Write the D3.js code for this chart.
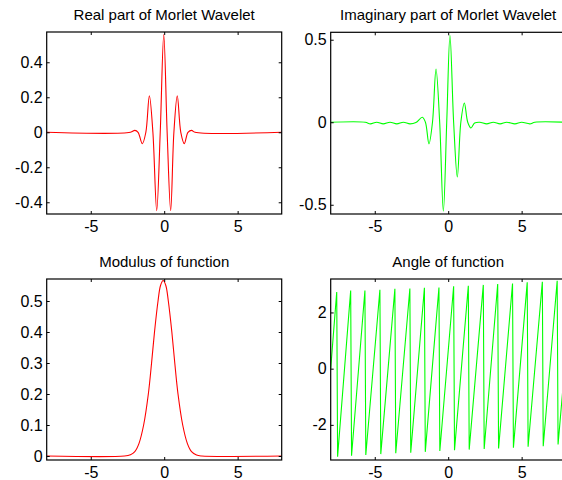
<!DOCTYPE html>
<html>
<head>
<meta charset="utf-8">
<script src="https://cdn.jsdelivr.net/npm/d3@7"></script>
<style>
  body { margin: 0; background: #fff; }
  svg { display: block; }
</style>
</head>
<body>
<div id="chart"></div>
<script>
// values
var xTicks = [-5, 0, 5];
var xTickLabels = ["-5", "0", "5"];

// real part: [x, y] points at the flats, zero crossings, peaks and troughs
var realPts = [[-8, 0], [-2.3, 0], [-2.0, 0.011], [-1.78, 0], [-1.49, -0.065], [-1.25, 0],
  [-1.01, 0.209], [-0.77, 0], [-0.51, -0.448], [-0.27, 0], [-0.03, 0.558], [0.2, 0],
  [0.44, -0.448], [0.66, 0], [0.89, 0.209], [1.13, 0], [1.37, -0.065], [1.62, 0],
  [1.87, 0.011], [2.1, 0], [8, 0]];
var realTicks = [-0.4, -0.2, 0, 0.2, 0.4];
var realTickLabels = ["-0.4", "-0.2", "0", "0.2", "0.4"];

var imagPts = [[-8, 0], [-5.65, 0], [-5.3, -0.01], [-4.87, 0], [-4.42, -0.01], [-3.96, 0],
  [-3.5, -0.01], [-3.05, 0], [-2.6, -0.01], [-2.2, -0.002], [-1.76, 0.03], [-1.55, 0],
  [-1.31, -0.131], [-1.07, 0], [-0.83, 0.323], [-0.58, 0], [-0.33, -0.539], [-0.1, 0],
  [0.12, 0.527], [0.37, 0], [0.62, -0.332], [0.86, 0], [1.1, 0.117], [1.33, 0],
  [1.55, -0.035], [1.8, -0.005], [2.15, 0], [2.62, -0.01], [3.07, 0], [3.53, -0.01],
  [3.98, 0], [4.54, -0.01], [5.0, 0], [5.56, -0.01], [5.9, 0], [8, 0]];
var imagTicks = [-0.5, 0, 0.5];
var imagTickLabels = ["-0.5", "0", "0.5"];

var modPts = [[-8, 0], [-2.7, 0], [-2.3, 0.004], [-2.0, 0.014], [-1.72, 0.04], [-1.4, 0.1],
  [-1.08, 0.2], [-0.86, 0.3], [-0.66, 0.4], [-0.42, 0.5], [-0.25, 0.55],
  [-0.07, 0.566], [0.11, 0.55], [0.28, 0.5], [0.52, 0.4], [0.72, 0.3], [0.94, 0.2],
  [1.26, 0.1], [1.58, 0.04], [1.86, 0.014], [2.2, 0.003], [2.55, 0], [8, 0]];
var modTicks = [0, 0.1, 0.2, 0.3, 0.4, 0.5];
var modTickLabels = ["0", "0.1", "0.2", "0.3", "0.4", "0.5"];

// angle: sawtooth, tops and bottoms of each jump
var angStart = [-8, 0];
var angEnd = [8, 0.45];
var peakX = [-7.59, -6.64, -5.67, -4.65, -3.63, -2.61, -1.62, -0.63, 0.37, 1.37, 2.39, 3.37, 4.38, 5.38, 6.41, 7.42];
var peakY = [2.73, 2.78, 2.78, 2.81, 2.84, 2.85, 2.88, 2.89, 2.93, 2.95, 2.98, 3.01, 3.03, 3.07, 3.09, 3.13];
var troughX = [-7.53, -6.58, -5.61, -4.59, -3.57, -2.55, -1.56, -0.57, 0.43, 1.43, 2.45, 3.43, 4.44, 5.44, 6.47, 7.48];
var troughY = [-3.13, -3.10, -3.07, -3.04, -3.01, -2.99, -2.96, -2.93, -2.90, -2.88, -2.86, -2.84, -2.81, -2.78, -2.76, -2.70];
var angTicks = [-2, 0, 2];
var angTickLabels = ["-2", "0", "2"];

var W = 562, H = 480;
var svg = d3.select("#chart").append("svg")
  .attr("width", W)
  .attr("height", H)
  .style("font-family", "'Liberation Sans', Arial, sans-serif");

var angPts = [angStart];
for (var i = 0; i < peakX.length; i++) {
  angPts.push([peakX[i], peakY[i]]);
  angPts.push([troughX[i], troughY[i]]);
}
angPts.push(angEnd);

var panels = [
  {title: "Real part of Morlet Wavelet", left: 46.7, top: 32, bottom: 214, ydom: [-0.467, 0.573],
   pts: realPts, color: "#ff0000", ticks: realTicks, labels: realTickLabels, curve: d3.curveCatmullRom},
  {title: "Imaginary part of Morlet Wavelet", left: 330.7, top: 32.3, bottom: 214, ydom: [-0.556, 0.545],
   pts: imagPts, color: "#00ff00", ticks: imagTicks, labels: imagTickLabels, curve: d3.curveCatmullRom},
  {title: "Modulus of function", left: 46.7, top: 279, bottom: 460, ydom: [-0.0129, 0.571],
   pts: modPts, color: "#ff0000", ticks: modTicks, labels: modTickLabels, curve: d3.curveCatmullRom},
  {title: "Angle of function", left: 330.7, top: 279, bottom: 460, ydom: [-3.25, 3.19],
   pts: angPts, color: "#00ff00", ticks: angTicks, labels: angTickLabels, curve: d3.curveLinear}
];

var pw = 235;

panels.forEach(function(p, k) {
  var x = d3.scaleLinear().domain([-8, 8]).range([p.left, p.left + pw]);
  var y = d3.scaleLinear().domain(p.ydom).range([p.bottom, p.top]);
  var g = svg.append("g");

  g.append("clipPath").attr("id", "clip" + k)
    .append("rect")
    .attr("x", p.left).attr("y", p.top)
    .attr("width", pw).attr("height", p.bottom - p.top);

  // curve
  var line = d3.line()
    .x(function(d) { return x(d[0]); })
    .y(function(d) { return y(d[1]); })
    .curve(p.curve);
  g.append("path")
    .attr("d", line(p.pts))
    .attr("clip-path", "url(#clip" + k + ")")
    .attr("fill", "none")
    .attr("stroke", p.color)
    .attr("stroke-width", 1.1);

  // axes, ticks inside the box
  var bottomAx = g.append("g").attr("transform", "translate(0," + p.bottom + ")")
    .call(d3.axisBottom(x).tickValues(xTicks).tickSize(-3).tickPadding(7)
      .tickFormat(function(d, i) { return xTickLabels[i]; }));
  var topAx = g.append("g").attr("transform", "translate(0," + p.top + ")")
    .call(d3.axisTop(x).tickValues(xTicks).tickSize(-3).tickFormat(""));
  var leftAx = g.append("g").attr("transform", "translate(" + p.left + ",0)")
    .call(d3.axisLeft(y).tickValues(p.ticks).tickSize(-3).tickPadding(4)
      .tickFormat(function(d, i) { return p.labels[i]; }));
  var rightAx = g.append("g").attr("transform", "translate(" + (p.left + pw) + ",0)")
    .call(d3.axisRight(y).tickValues(p.ticks).tickSize(-3).tickFormat(""));

  [bottomAx, topAx, leftAx, rightAx].forEach(function(a) {
    a.select(".domain").remove();
    a.selectAll("line").attr("stroke", "#000");
    a.selectAll("text")
      .attr("fill", "#000")
      .style("font-size", "16px")
      .style("font-family", "'Liberation Sans', Arial, sans-serif");
  });

  // box
  g.append("rect")
    .attr("x", p.left).attr("y", p.top)
    .attr("width", pw).attr("height", p.bottom - p.top)
    .attr("fill", "none")
    .attr("stroke", "#000")
    .attr("stroke-width", 1.2);

  // title
  g.append("text")
    .attr("x", p.left + pw / 2)
    .attr("y", p.top - 12.5)
    .attr("text-anchor", "middle")
    .style("font-size", "15px")
    .attr("fill", "#000")
    .text(p.title);
});
</script>
</body>
</html>
